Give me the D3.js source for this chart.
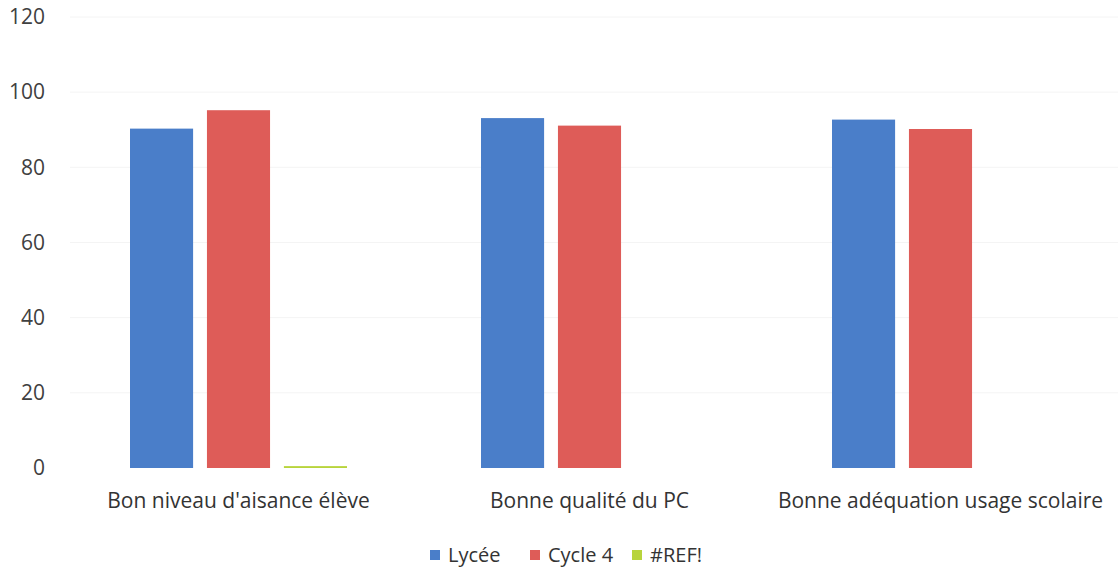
<!DOCTYPE html>
<html><head><meta charset="utf-8">
<script src="https://cdn.jsdelivr.net/npm/d3@7"></script>
<style>body{margin:0;background:#fff;}svg{display:block;font-family:"Open Sans",sans-serif;}</style>
</head><body><svg id="c" width="1118" height="569"></svg>
<script>
const categories = ["Bon niveau d'aisance élève", "Bonne qualité du PC", "Bonne adéquation usage scolaire"];
const seriesNames = ["Lycée", "Cycle 4", "#REF!"];
const lycee = [90.3, 93.1, 92.7];
const cycle4 = [95.2, 91.1, 90.2];
const ref = [0.5, 0, 0];
const yTicks = [0, 20, 40, 60, 80, 100, 120];
const colors = ["#4a7ec9", "#de5c58", "#b8d43c"];

const svg = d3.select("#c");
const seriesVals = [lycee, cycle4, ref];
const y = d3.scaleLinear().domain([0, 120]).range([468, 17]);
const x0 = d3.scaleBand().domain(categories).range([63, 1116]).paddingInner(0).paddingOuter(0);
const x1 = d3.scaleBand().domain(seriesNames).range([67, 284]).paddingInner(0.18).paddingOuter(0);

// faint gridlines
svg.append("g").selectAll("line").data(yTicks.filter(d => d > 0)).join("line")
  .attr("x1", 70).attr("x2", 1118).attr("y1", d => y(d)).attr("y2", d => y(d))
  .attr("stroke", "#f4f4f4").attr("stroke-width", 1);

const yAxis = d3.axisLeft(y).tickValues(yTicks).tickSize(0).tickPadding(0);
const ga = svg.append("g").attr("transform", "translate(45,0)").call(yAxis);
ga.select(".domain").remove();
ga.selectAll("text").attr("font-size", 21).attr("fill", "#404040").attr("font-family", "Open Sans, sans-serif");

const groups = svg.append("g").selectAll("g").data(categories).join("g")
  .attr("transform", d => `translate(${x0(d)},0)`);
groups.selectAll("rect").data((c, i) => seriesNames.map((s, j) => ({s, v: seriesVals[j][i], j})))
  .join("rect")
  .attr("x", d => x1(d.s)).attr("width", x1.bandwidth())
  .attr("y", d => y(d.v)).attr("height", d => y(0) - y(d.v))
  .attr("fill", d => colors[d.j]);

const xAxis = d3.axisBottom(x0).tickSize(0).tickPadding(0);
const gx = svg.append("g").attr("transform", "translate(0,0)").call(xAxis);
gx.select(".domain").remove();
gx.selectAll(".tick").attr("transform", d => `translate(${x0(d) + x1.range()[0] + (x1.range()[1]-x1.range()[0])/2},0)`);
gx.selectAll("text").attr("font-size", 21).attr("fill", "#333").attr("font-family", "Open Sans, sans-serif")
  .attr("y", 508).attr("dy", null);

const legendX = [430, 530, 632];
const lg = svg.append("g").selectAll("g").data(seriesNames).join("g")
  .attr("transform", (d, i) => `translate(${legendX[i]},0)`);
lg.append("rect").attr("x", 0).attr("y", 550).attr("width", 10).attr("height", 10).attr("fill", (d, i) => colors[i]);
lg.append("text").attr("x", 18).attr("y", 562).attr("font-size", 20).attr("fill", "#333").text(d => d);
</script></body></html>
